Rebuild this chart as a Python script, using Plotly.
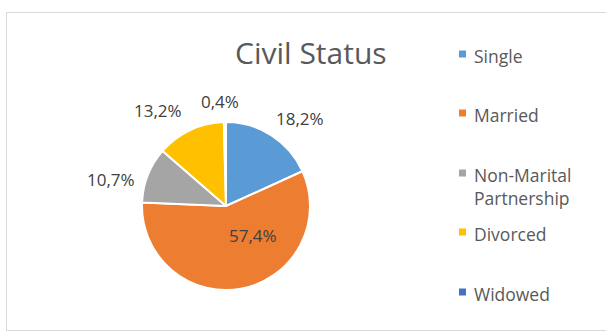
import plotly.graph_objects as go

# Civil status breakdown (percent of respondents)
categories = ["Single", "Married", "Non-Marital Partnership", "Divorced", "Widowed"]
shares = [18.2, 57.4, 10.7, 13.2, 0.4]
colors = ["#5B9BD5", "#ED7D31", "#A5A5A5", "#FFC000", "#4472C4"]
legend_labels = ["Single", "Married", "Non-Marital<br>Partnership", "Divorced", "Widowed"]

W, H = 606, 332


def px(x):
    return x / W


def py(y):
    return 1 - y / H


# pie placement in pixels
cx, cy, r = 226, 206, 84

fig = go.Figure(
    go.Pie(
        labels=categories,
        values=shares,
        sort=False,
        direction="clockwise",
        rotation=0,
        marker=dict(colors=colors, line=dict(color="white", width=2)),
        textinfo="none",
        showlegend=False,
        hoverinfo="label+value",
        domain=dict(x=[px(cx - r), px(cx + r)], y=[py(cy + r), py(cy - r)]),
    )
)

FONT = "Open Sans"
TXT = "#595959"

# data labels (pixel centres)
label_pos = [(300, 118), (253, 235), (111, 179), (158, 110), (220, 101)]
annotations = []
for v, (x, y) in zip(shares, label_pos):
    annotations.append(dict(
        x=px(x), y=py(y), xref="paper", yref="paper",
        text=f"{v:.1f}%".replace(".", ","), showarrow=False,
        xanchor="center", yanchor="middle",
        font=dict(family=FONT, size=17, color="#404040"),
    ))

# title
annotations.append(dict(
    x=px(311), y=py(53), xref="paper", yref="paper", text="Civil Status",
    showarrow=False, xanchor="center", yanchor="middle",
    font=dict(family=FONT, size=30, color=TXT),
))

# legend
shapes = []
legend_y = [54, 113, 173, 232, 292]
for lab, col, y in zip(legend_labels, colors, legend_y):
    shapes.append(dict(
        type="rect", xref="paper", yref="paper",
        x0=px(459), x1=px(466), y0=py(y + 3.5), y1=py(y - 3.5),
        fillcolor=col, line=dict(width=0),
    ))
    annotations.append(dict(
        x=px(472), y=py(y - 12), xref="paper", yref="paper", text=lab,
        showarrow=False, xanchor="left", yanchor="top", align="left",
        font=dict(family=FONT, size=17.5, color=TXT),
    ))

# chart frame
shapes.append(dict(
    type="rect", xref="paper", yref="paper",
    x0=px(6.5), x1=px(612), y0=py(330.5), y1=py(12.5),
    line=dict(color="#D9D9D9", width=1), fillcolor="rgba(0,0,0,0)",
))

fig.update_layout(
    width=W, height=H,
    margin=dict(l=0, r=0, t=0, b=0),
    paper_bgcolor="white", plot_bgcolor="white",
    annotations=annotations, shapes=shapes,
    showlegend=False,
)

fig.write_html("out.html")
